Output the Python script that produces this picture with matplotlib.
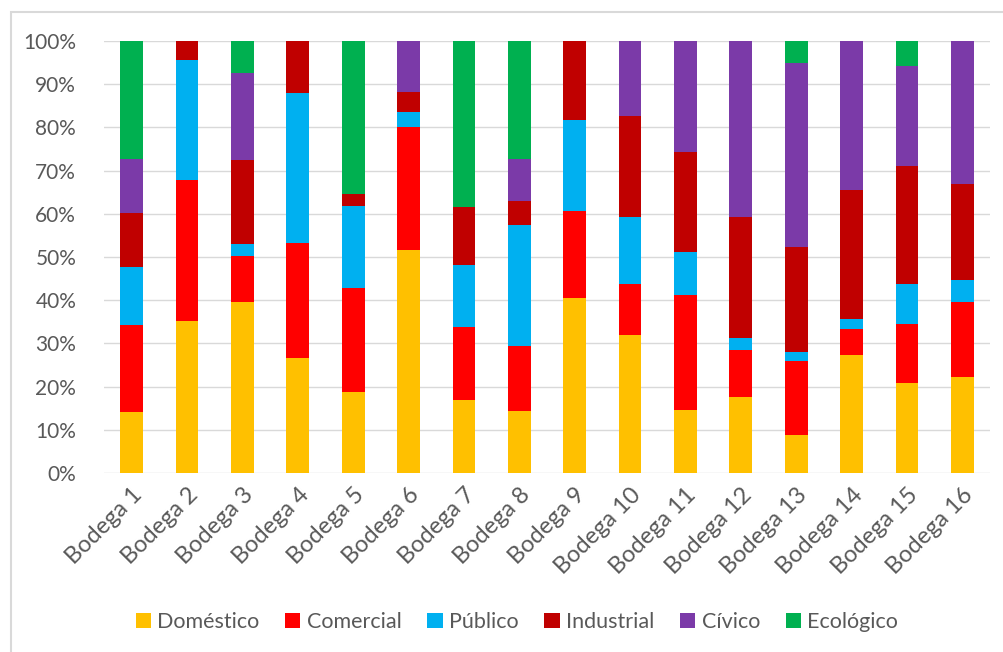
import numpy as np
import matplotlib.pyplot as plt
from matplotlib.patches import Rectangle
from matplotlib.ticker import PercentFormatter

plt.rcParams['font.family'] = ['Lato', 'DejaVu Sans']

bodegas = [f"Bodega {i}" for i in range(1, 17)]
categorias = ["Doméstico", "Comercial", "Público", "Industrial", "Cívico", "Ecológico"]
colores = ["#FFC000", "#FF0000", "#00B0F0", "#C00000", "#7B3AA8", "#00B050"]

# porcentajes, por bodega
domestico = [14.1, 35.1, 39.6, 26.6, 18.8, 51.7, 17.0, 14.4, 40.4, 31.9, 14.6, 17.6, 8.7, 27.4, 20.9, 22.3]
comercial = [20.2, 32.7, 10.7, 26.7, 24.1, 28.4, 16.7, 15.1, 20.2, 11.9, 26.5, 10.8, 17.3, 6.0, 13.6, 17.3]
publico = [13.3, 27.9, 2.7, 34.7, 19.0, 3.4, 14.5, 27.9, 21.1, 15.4, 10.1, 2.9, 2.0, 2.3, 9.3, 5.0]
industrial = [12.5, 4.3, 19.5, 12.0, 2.6, 4.7, 13.4, 5.5, 18.3, 23.4, 23.1, 27.9, 24.3, 29.9, 27.2, 22.3]
civico = [12.7, 0, 20.1, 0, 0, 11.8, 0, 9.9, 0, 17.4, 25.7, 40.8, 42.5, 34.4, 23.2, 33.1]
ecologico = [27.2, 0, 7.4, 0, 35.5, 0, 38.4, 27.2, 0, 0, 0, 0, 5.2, 0, 5.8, 0]

series = [domestico, comercial, publico, industrial, civico, ecologico]

fig = plt.figure(figsize=(10.04, 6.52), dpi=100)
fig.patches.append(Rectangle((11 / 1004, -0.1), 1.2, 1 - 12 / 652 + 0.1,
                             transform=fig.transFigure, fill=False,
                             edgecolor="#D9D9D9", linewidth=1.5))
ax = fig.add_axes([104 / 1004, 1 - 473 / 652, 886 / 1004, 432 / 652])

x = np.arange(len(bodegas))
bottom = np.zeros(len(bodegas))
for nombre, valores, color in zip(categorias, series, colores):
    valores = np.array(valores)
    ax.bar(x, valores, 0.41, bottom=bottom, color=color, label=nombre, zorder=2)
    bottom += valores

ax.set_xlim(-0.5, 15.5)
ax.set_ylim(0, 100)
ax.set_yticks(np.arange(0, 101, 10))
ax.yaxis.set_major_formatter(PercentFormatter(decimals=0))
ax.grid(axis="y", color="#D9D9D9", linewidth=1, zorder=0)
for s in ax.spines.values():
    s.set_visible(False)
ax.tick_params(axis="y", length=0, labelsize=15, labelcolor="#595959", pad=20)
ax.set_xticks(x)
ax.set_xticklabels(bodegas, rotation=45, ha="right", rotation_mode="anchor")
ax.tick_params(axis="x", length=0, labelsize=17, labelcolor="#595959", pad=8)

ax.legend(loc="center", bbox_to_anchor=(0.5 - 30 / 886, -0.345), ncol=6, frameon=False,
          fontsize=15.5, labelcolor="#595959", handlelength=0.7, handleheight=0.7,
          handletextpad=0.3, columnspacing=1.2)

fig.savefig("out.png", dpi=100)
